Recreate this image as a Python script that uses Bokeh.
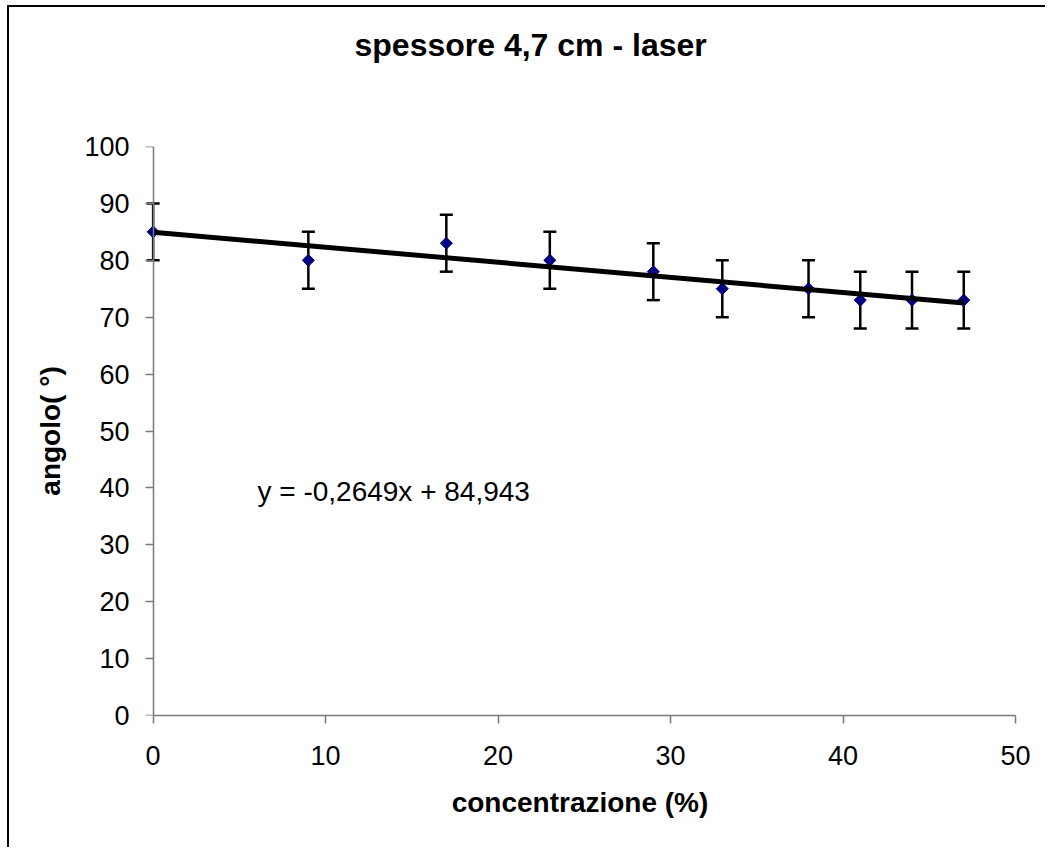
import math
from bokeh.plotting import figure
from bokeh.models import (Range1d, LinearAxis, Whisker, ColumnDataSource, Label,
                          FixedTicker, TeeHead, CustomJSTickFormatter, Title)
from bokeh.embed import file_html
from bokeh.resources import INLINE

# ---- data ----
concentrazione = [0, 9, 17, 23, 29, 33, 38, 41, 44, 47]
angolo = [85, 80, 83, 80, 78, 75, 75, 73, 73, 73]
errore = [5, 5, 5, 5, 5, 5, 5, 5, 5, 5]
slope = -0.2649
intercept = 84.943
trend_x = [0, 47]
x_ticks = [0, 10, 20, 30, 40, 50]
y_ticks = [0, 10, 20, 30, 40, 50, 60, 70, 80, 90, 100]
title_text = "spessore 4,7 cm - laser"
x_label = "concentrazione (%)"
y_label = "angolo( °)"
eq_text = "y = -0,2649x + 84,943"

FONT = "Liberation Sans"
W, H = 1038, 842
MB_LEFT, MB_RIGHT, MB_TOP, MB_BOTTOM = 135, 32, 139, 134

p = figure(width=W, height=H, title=title_text,
           x_range=Range1d(-0.5, 50), y_range=Range1d(0, 100),
           output_backend="svg", toolbar_location=None,
           x_axis_location=None, y_axis_location=None,
           min_border_left=MB_LEFT, min_border_right=MB_RIGHT,
           min_border_top=MB_TOP, min_border_bottom=MB_BOTTOM)
p.grid.visible = False
p.outline_line_color = None
p.background_fill_color = "white"
p.border_fill_color = "white"
p.styles = {"border-top": "2px solid black", "border-left": "2px solid black",
            "border-right": "none", "border-bottom": "none",
            "margin-left": "7px", "margin-top": "5px"}

p.title.text_font = FONT
p.title.text_font_size = "32px"
p.title.text_font_style = "bold"
p.title.text_color = "black"
p.title.align = "left"
p.title.offset = 210
p.title.standoff = 10

# spacer between the frame and the title pushes the title upward
spacer = Title(text=" ", text_font_size="10px", standoff=66)
p.add_layout(spacer, "above")

axis_color = "#7a7a7a"


def style_axis(ax):
    ax.axis_line_color = axis_color
    ax.axis_line_width = 1.5
    ax.major_tick_line_color = axis_color
    ax.major_tick_line_width = 1.5
    ax.major_tick_out = 8
    ax.major_tick_in = 0
    ax.minor_tick_line_color = None
    ax.major_label_text_font = FONT
    ax.major_label_text_font_size = "27px"
    ax.major_label_text_color = "black"
    ax.axis_label_text_font = FONT
    ax.axis_label_text_font_size = "28px"
    ax.axis_label_text_font_style = "bold"
    ax.axis_label_text_color = "black"


# x axis (below)
xaxis = LinearAxis(ticker=FixedTicker(ticks=x_ticks), bounds=(0, 50))
style_axis(xaxis)
xaxis.axis_label = x_label
xaxis.major_label_standoff = 22
xaxis.axis_label_standoff = 19
p.add_layout(xaxis, "below")

# y axis: labels from a normal left axis, line/ticks from an axis fixed at x=0
ylab_axis = LinearAxis(ticker=FixedTicker(ticks=y_ticks))
style_axis(ylab_axis)
ylab_axis.axis_line_color = None
ylab_axis.major_tick_line_color = None
ylab_axis.axis_label = y_label
ylab_axis.major_label_standoff = 7
ylab_axis.axis_label_standoff = 15
p.add_layout(ylab_axis, "left")

yline_axis = LinearAxis(ticker=FixedTicker(ticks=y_ticks), fixed_location=0,
                        formatter=CustomJSTickFormatter(code="return ''"))
style_axis(yline_axis)
yline_axis.major_label_standoff = 0
p.add_layout(yline_axis, "left")

src = ColumnDataSource(dict(
    x=concentrazione,
    y=angolo,
    upper=[a + e for a, e in zip(angolo, errore)],
    lower=[a - e for a, e in zip(angolo, errore)],
))

whisk = Whisker(base="x", upper="upper", lower="lower", source=src,
                line_color="black", line_width=2.5,
                upper_head=TeeHead(size=13, line_color="black", line_width=2.5),
                lower_head=TeeHead(size=13, line_color="black", line_width=2.5))
p.add_layout(whisk)

p.scatter("x", "y", source=src, marker="square", size=8.5, angle=math.pi / 4,
          fill_color="#000080", line_color="#000080")

trend_y = [slope * xv + intercept for xv in trend_x]
p.line(trend_x, trend_y, line_color="black", line_width=5)

p.add_layout(Label(x=6.05, y=39.4, text=eq_text, text_font=FONT,
                   text_font_size="28px", text_color="black",
                   text_baseline="alphabetic", text_align="left"))

open("out.html", "w").write(file_html(p, INLINE))
